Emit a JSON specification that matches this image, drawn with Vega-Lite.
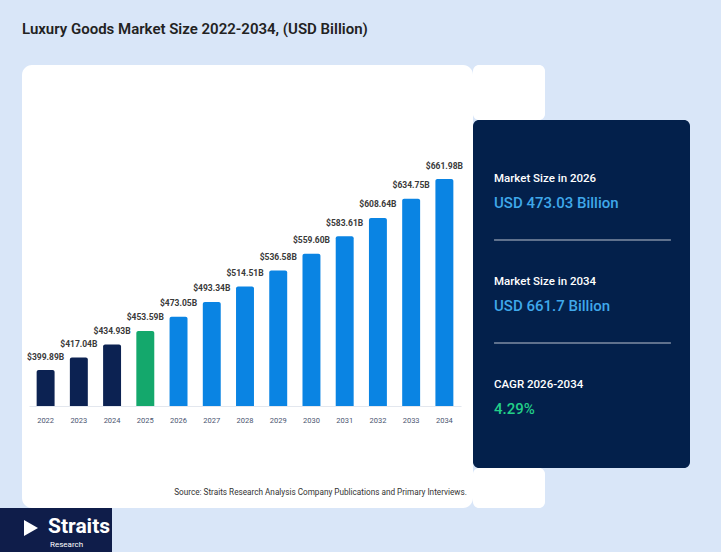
{
  "$schema": "https://vega.github.io/schema/vega-lite/v6.json",
  "background": "#d9e6f8",
  "padding": {"left": 0, "top": 22, "right": 31, "bottom": 0},
  "title": {
    "text": "Luxury Goods Market Size 2022-2034, (USD Billion)",
    "anchor": "start",
    "frame": "group",
    "dx": 22,
    "fontSize": 15,
    "fontWeight": 600,
    "color": "#222222",
    "offset": 28
  },
  "config": {
    "view": {"stroke": null},
    "font": "Roboto"
  },
  "columns": 1,
  "align": "none",
  "spacing": 0,
  "concat": [
    {
      "columns": 3,
      "align": "none",
      "spacing": 0,
      "resolve": {"scale": {"color": "independent"}},
      "concat": [
        {
          "width": 22,
          "height": 10,
          "data": {"values": []},
          "mark": "point"
        },
        {
          "width": 451,
          "height": 443,
          "view": {"fill": "#ffffff", "stroke": null, "cornerRadius": 10},
          "data": {
            "values": [
              {"year": 2022, "value": 399.89, "label": "$399.89B", "phase": "Historical"},
              {"year": 2023, "value": 417.04, "label": "$417.04B", "phase": "Historical"},
              {"year": 2024, "value": 434.93, "label": "$434.93B", "phase": "Historical"},
              {"year": 2025, "value": 453.59, "label": "$453.59B", "phase": "Base year"},
              {"year": 2026, "value": 473.05, "label": "$473.05B", "phase": "Forecast"},
              {"year": 2027, "value": 493.34, "label": "$493.34B", "phase": "Forecast"},
              {"year": 2028, "value": 514.51, "label": "$514.51B", "phase": "Forecast"},
              {"year": 2029, "value": 536.58, "label": "$536.58B", "phase": "Forecast"},
              {"year": 2030, "value": 559.60, "label": "$559.60B", "phase": "Forecast"},
              {"year": 2031, "value": 583.61, "label": "$583.61B", "phase": "Forecast"},
              {"year": 2032, "value": 608.64, "label": "$608.64B", "phase": "Forecast"},
              {"year": 2033, "value": 634.75, "label": "$634.75B", "phase": "Forecast"},
              {"year": 2034, "value": 661.98, "label": "$661.98B", "phase": "Forecast"}
            ]
          },
          "encoding": {
            "x": {
              "field": "year",
              "type": "ordinal",
              "scale": {"range": [7, 439], "paddingInner": 0.46, "paddingOuter": 0.23},
              "axis": {
                "offset": -102,
                "labelAngle": 0,
                "ticks": false,
                "domainColor": "#e3e7ee",
                "labelFontSize": 7.5,
                "labelColor": "#4a5570",
                "labelPadding": 10,
                "title": "Source: Straits Research Analysis Company Publications and Primary Interviews.",
                "titleFontSize": 8.2,
                "titleFontWeight": "normal",
                "titleColor": "#333333",
                "titleX": 298,
                "titleY": 82,
                "titleBaseline": "top",
                "titleAlign": "center"
              }
            },
            "y": {
              "field": "value",
              "type": "quantitative",
              "scale": {"domain": [350.5, 680], "range": [341, 100.9], "zero": false},
              "axis": null
            }
          },
          "layer": [
            {
              "mark": {"type": "bar", "cornerRadiusTopLeft": 2, "cornerRadiusTopRight": 2},
              "encoding": {
                "y2": {"datum": 350.5},
                "color": {
                  "field": "phase",
                  "type": "nominal",
                  "scale": {"domain": ["Historical", "Base year", "Forecast"], "range": ["#0c2252", "#14a86c", "#0a84e3"]},
                  "legend": null
                }
              }
            },
            {
              "mark": {"type": "text", "baseline": "alphabetic", "dy": -10.5, "fontSize": 8.5, "fontWeight": "bold", "color": "#3a3a3a"},
              "encoding": {"text": {"field": "label"}}
            }
          ]
        },
        {
          "columns": 1,
          "align": "none",
          "spacing": 0,
          "concat": [
            {
              "width": 72,
              "height": 55,
              "view": {"fill": "#ffffff", "stroke": null, "cornerRadius": 6},
              "data": {"values": []},
              "mark": "point"
            },
            {
              "width": 217,
              "height": 348,
              "view": {"fill": "#03204b", "stroke": null, "cornerRadius": 6},
              "data": {
                "values": [
                  {"metric": "Market Size in 2026", "value": "USD 473.03 Billion"},
                  {"metric": "Market Size in 2034", "value": "USD 661.7 Billion"},
                  {"metric": "CAGR 2026-2034", "value": "4.29%"}
                ]
              },
              "encoding": {
                "x": {
                  "datum": 9.7,
                  "type": "quantitative",
                  "scale": {"domain": [0, 100]},
                  "axis": null
                },
                "y": {
                  "field": "metric",
                  "type": "nominal",
                  "sort": null,
                  "scale": {"type": "point", "range": [71, 277], "padding": 0},
                  "axis": null
                }
              },
              "layer": [
                {
                  "transform": [{"filter": "datum.metric != 'CAGR 2026-2034'"}],
                  "mark": {"type": "rule", "color": "#7f8ca3", "strokeWidth": 1.5, "yOffset": 49},
                  "encoding": {"x2": {"datum": 91.2}}
                },
                {
                  "mark": {"type": "text", "align": "left", "baseline": "middle", "dy": -12, "fontSize": 11.5, "fontWeight": 500, "color": "#ffffff"},
                  "encoding": {"text": {"field": "metric"}}
                },
                {
                  "mark": {"type": "text", "align": "left", "baseline": "middle", "dy": 12, "fontSize": 15, "fontWeight": 500},
                  "encoding": {
                    "text": {"field": "value"},
                    "color": {
                      "field": "metric",
                      "type": "nominal",
                      "sort": null,
                      "scale": {"domain": ["Market Size in 2026", "Market Size in 2034", "CAGR 2026-2034"], "range": ["#3fa8ea", "#3fa8ea", "#22cf88"]},
                      "legend": null
                    }
                  }
                }
              ]
            },
            {
              "width": 72,
              "height": 40,
              "view": {"fill": "#ffffff", "stroke": null, "cornerRadius": 6},
              "data": {"values": []},
              "mark": "point"
            }
          ]
        }
      ]
    },
    {
      "width": 112,
      "height": 44,
      "view": {"fill": "#0f1d4a", "stroke": null},
      "data": {"values": [{"brand": "Straits", "unit": "Research"}]},
      "layer": [
        {
          "mark": {"type": "text", "align": "left", "baseline": "alphabetic", "fontSize": 21, "fontWeight": "bold", "color": "#ffffff", "dx": -8, "dy": 3},
          "encoding": {"text": {"field": "brand"}}
        },
        {
          "mark": {"type": "text", "align": "left", "baseline": "alphabetic", "fontSize": 8, "color": "#ffffff", "dx": -6, "dy": 17},
          "encoding": {"text": {"field": "unit"}}
        },
        {
          "mark": {"type": "point", "shape": "triangle-right", "filled": true, "color": "#ffffff", "opacity": 1, "size": 260, "xOffset": -25, "yOffset": -2},
          "encoding": {}
        }
      ]
    }
  ]
}
